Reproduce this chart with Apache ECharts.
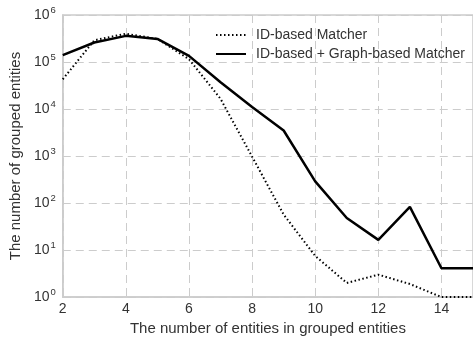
<!DOCTYPE html>
<html>
<head>
<meta charset="utf-8">
<script src="https://cdn.jsdelivr.net/npm/echarts@6/dist/echarts.min.js"></script>
<style>
html,body{margin:0;padding:0;background:#fff;}
#c{width:473px;height:341px;}
</style>
</head>
<body>
<div id="c"></div>
<script>
var groupSizes = [2, 3, 4, 5, 6, 7, 8, 9, 10, 11, 12, 13, 14, 15];
var idBased = [43000, 290000, 400000, 310000, 115000, 16500, 970, 57, 7.5, 2.0, 3.0, 1.9, 1.0, 1.0];
var idGraphBased = [140000, 260000, 360000, 310000, 135000, 37000, 11000, 3500, 290, 48, 16.5, 83, 4.1, 4.1];
var seriesNames = ['ID-based Matcher', 'ID-based + Graph-based Matcher'];
var xTitle = 'The number of entities in grouped entities';
var yTitle = 'The number of grouped entities';

function pairs(xs, ys) { return xs.map(function (x, i) { return [x, ys[i]]; }); }

var font = 'Liberation Sans, Arial, sans-serif';
var chart = echarts.init(document.getElementById('c'), null, {renderer: 'canvas'});
chart.setOption({
  animation: false,
  backgroundColor: '#fff',
  grid: {left: 61, right: 0, top: 15, bottom: 41, show: true, borderColor: '#cccccc', borderWidth: 1.5},
  legend: {
    orient: 'vertical', left: 210, top: 23, itemWidth: 30, itemHeight: 14, itemGap: 5,
    textStyle: {fontFamily: font, fontSize: 14, color: '#333',
      rich: {n: {fontFamily: font, fontSize: 14, color: '#333', padding: [0, 0, 0, 5]}}},
    formatter: function (name) { return '{n|' + name + '}'; },
    itemStyle: {opacity: 0},
    data: seriesNames
  },
  xAxis: {
    type: 'value', min: 2, max: 15, interval: 2,
    name: xTitle, nameLocation: 'middle', nameGap: 12,
    nameTextStyle: {fontFamily: font, fontSize: 15, color: '#333'},
    axisLine: {show: true, lineStyle: {color: '#cccccc', width: 1.5}},
    axisTick: {show: false},
    axisLabel: {fontFamily: font, fontSize: 14, color: '#333', margin: 5, showMaxLabel: false},
    splitLine: {show: true, lineStyle: {color: '#cccccc', type: [8, 5], width: 1}}
  },
  yAxis: {
    type: 'log', logBase: 10, min: 1, max: 1000000,
    name: yTitle, nameLocation: 'middle', nameGap: 38,
    nameTextStyle: {fontFamily: font, fontSize: 15, color: '#333'},
    axisLine: {show: true, lineStyle: {color: '#cccccc', width: 1.5}},
    axisTick: {show: false},
    minorTick: {show: false},
    axisLabel: {
      fontFamily: font, fontSize: 14, color: '#333', margin: 7,
      formatter: function (v) {
        var e = Math.round(Math.log10(v));
        return '10{sup|' + e + '}';
      },
      rich: {sup: {fontFamily: font, fontSize: 9.5, color: '#333', verticalAlign: 'bottom', padding: [0, 0, 9, 1]}}
    },
    splitLine: {show: true, lineStyle: {color: '#cccccc', type: [8, 5], width: 1}}
  },
  series: [
    {
      name: seriesNames[0], type: 'line', symbol: 'none', data: pairs(groupSizes, idBased),
      lineStyle: {color: '#000', width: 2, type: [1.5, 2.5]}, itemStyle: {color: '#000'}, z: 3
    },
    {
      name: seriesNames[1], type: 'line', symbol: 'none', data: pairs(groupSizes, idGraphBased),
      lineStyle: {color: '#000', width: 2.5, type: 'solid'}, itemStyle: {color: '#000'}, z: 4
    }
  ]
});
</script>
</body>
</html>
